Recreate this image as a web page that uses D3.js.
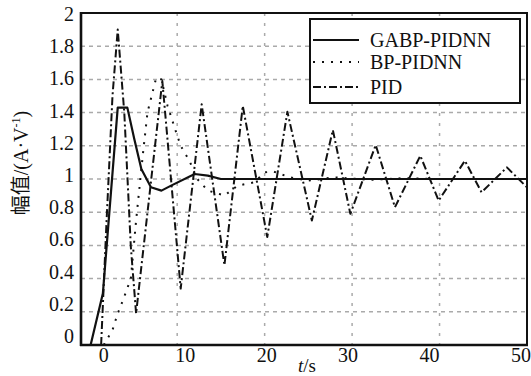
<!DOCTYPE html>
<html>
<head>
<meta charset="utf-8">
<script src="https://cdn.jsdelivr.net/npm/d3@7"></script>
<style>
  html, body { margin: 0; padding: 0; background: #fff; }
  svg { display: block; }
</style>
</head>
<body>
<div id="chart"></div>
<script>
// time axis ticks and values
const xTicks = [0, 10, 20, 30, 40, 50];
const yTicks = [0, 0.2, 0.4, 0.6, 0.8, 1, 1.2, 1.4, 1.6, 1.8, 2];
const seriesNames = ['GABP-PIDNN', 'BP-PIDNN', 'PID'];

const tGABP = [0.1, 1.5, 3.2, 4.3, 5.1, 5.9, 7.0, 8.2, 9.3, 12.0, 13.5, 15.0, 20.7, 30, 40, 50];
const yGABP = [0, 0.31, 1.43, 1.43, 1.24, 1.06, 0.95, 0.93, 0.96, 1.03, 1.02, 1.0, 1.0, 1.0, 1.0, 1.0];

const tBP = [1.6, 2.6, 3.2, 3.8, 4.7, 5.3, 6.1, 6.6, 7.6, 8.2, 8.9, 9.7, 10.4, 11.4, 12.3, 13.5, 14.5, 15.4, 16.9, 18.8, 20.0, 21.0, 22.9, 25, 28, 32, 36, 40, 45, 50];
const yBP = [0, 0.09, 0.19, 0.27, 0.40, 0.75, 1.16, 1.40, 1.61, 1.60, 1.44, 1.31, 1.20, 1.11, 1.0, 0.93, 0.915, 0.90, 0.96, 0.98, 1.04, 1.045, 1.01, 0.99, 1.01, 0.995, 1.005, 1.0, 1.0, 1.0];

const tPID = [1.3, 1.9, 2.6, 3.2, 3.95, 4.7, 5.3, 8.3, 10.4, 12.8, 15.4, 17.5, 20.3, 22.6, 25.4, 27.8, 29.8, 32.7, 34.9, 37.8, 39.9, 42.9, 44.8, 47.7, 50];
const yPID = [0, 0.72, 1.5, 1.9, 1.4, 0.59, 0.19, 1.59, 0.34, 1.45, 0.48, 1.44, 0.65, 1.405, 0.75, 1.295, 0.79, 1.205, 0.83, 1.14, 0.87, 1.11, 0.92, 1.07, 0.95];

const W = 531, H = 376;
const mLeft = 81, mRight = 527, mTop = 13, mBottom = 345;
const serif = '"Times New Roman", Tinos, "DejaVu Serif", "Noto Serif", serif';

const svg = d3.select('#chart').append('svg').attr('width', W).attr('height', H)
  .style('font-family', serif).attr('fill', '#111');
svg.append('rect').attr('width', W).attr('height', H).attr('fill', '#fff');

const x = d3.scaleLinear().domain([-1, 50]).range([mLeft, mRight]);
const y = d3.scaleLinear().domain([0, 2]).range([mBottom, mTop]);

// grid
svg.append('g').selectAll('line').data(yTicks.filter(d => d > 0 && d < 2)).enter().append('line')
  .attr('x1', mLeft).attr('x2', mRight).attr('y1', d => y(d)).attr('y2', d => y(d))
  .attr('stroke', '#aaa').attr('stroke-width', 1.5).attr('stroke-dasharray', '4,4');
svg.append('g').selectAll('line').data(xTicks.filter(d => d > 0 && d < 50)).enter().append('line')
  .attr('x1', d => x(d)).attr('x2', d => x(d)).attr('y1', mTop).attr('y2', mBottom)
  .attr('stroke', '#aaa').attr('stroke-width', 1.5).attr('stroke-dasharray', '3,7');

// curves
const line = d3.line().x(d => x(d[0])).y(d => y(d[1]));
const series = [
  { pts: d3.zip(tGABP, yGABP), dash: null, w: 2.2 },
  { pts: d3.zip(tBP, yBP), dash: '2,7', w: 2 },
  { pts: d3.zip(tPID, yPID), dash: '8,3,2,3', w: 2 }
];
svg.append('defs').append('clipPath').attr('id', 'clip')
  .append('rect').attr('x', mLeft).attr('y', mTop).attr('width', mRight - mLeft).attr('height', mBottom - mTop);
svg.append('g').attr('clip-path', 'url(#clip)').selectAll('path').data(series).enter().append('path')
  .attr('d', d => line(d.pts)).attr('fill', 'none').attr('stroke', '#111')
  .attr('stroke-width', d => d.w).attr('stroke-dasharray', d => d.dash)
  .attr('stroke-linejoin', 'round');

// frame
svg.append('rect').attr('x', mLeft).attr('y', mTop).attr('width', mRight - mLeft).attr('height', mBottom - mTop)
  .attr('fill', 'none').attr('stroke', '#111').attr('stroke-width', 2);
svg.append('line').attr('x1', mLeft).attr('x2', mLeft).attr('y1', mTop - 1).attr('y2', mBottom + 1)
  .attr('stroke', '#111').attr('stroke-width', 2.6);
svg.append('line').attr('x1', mLeft - 1).attr('x2', mRight + 1).attr('y1', mBottom).attr('y2', mBottom)
  .attr('stroke', '#111').attr('stroke-width', 2.6);

// tick labels (the printed labels sit a little off the grid, as in the scan)
svg.append('g').selectAll('text').data(xTicks).enter().append('text')
  .attr('x', d => d === 50 ? W : x(d) + 14 - 0.6 * d).attr('y', 362)
  .attr('text-anchor', d => d === 50 ? 'end' : 'middle')
  .attr('font-size', 20).text(d => d);
svg.append('g').selectAll('text').data(yTicks).enter().append('text')
  .attr('x', 74).attr('y', d => y(d) + 3 + (d - 1) * 5).attr('text-anchor', 'end')
  .attr('font-size', 20).text(d => d);

// axis titles
const xt = svg.append('text').attr('x', 307).attr('y', 372).attr('text-anchor', 'middle').attr('font-size', 19);
xt.append('tspan').attr('font-style', 'italic').text('t');
xt.append('tspan').text('/s');

const yt = svg.append('text').attr('transform', 'translate(28,163) rotate(-90)')
  .attr('text-anchor', 'middle').attr('font-size', 20);
yt.append('tspan').style('font-family', '"Noto Sans CJK SC", sans-serif').text('幅值');
yt.append('tspan').text('/(A·V');
yt.append('tspan').attr('dy', -8).attr('font-size', 12).text('-1');
yt.append('tspan').attr('dy', 8).text(')');

// legend
const lg = svg.append('g');
lg.append('rect').attr('x', 310).attr('y', 19).attr('width', 210).attr('height', 84)
  .attr('fill', '#fff').attr('stroke', '#111').attr('stroke-width', 2);
const rows = [40, 62, 87];
series.forEach((s, i) => {
  lg.append('line').attr('x1', 313).attr('x2', 359).attr('y1', rows[i]).attr('y2', rows[i])
    .attr('stroke', '#111').attr('stroke-width', s.w).attr('stroke-dasharray', s.dash);
  lg.append('text').attr('x', 370).attr('y', rows[i] + 7).attr('font-size', 20).text(seriesNames[i]);
});
</script>
</body>
</html>
